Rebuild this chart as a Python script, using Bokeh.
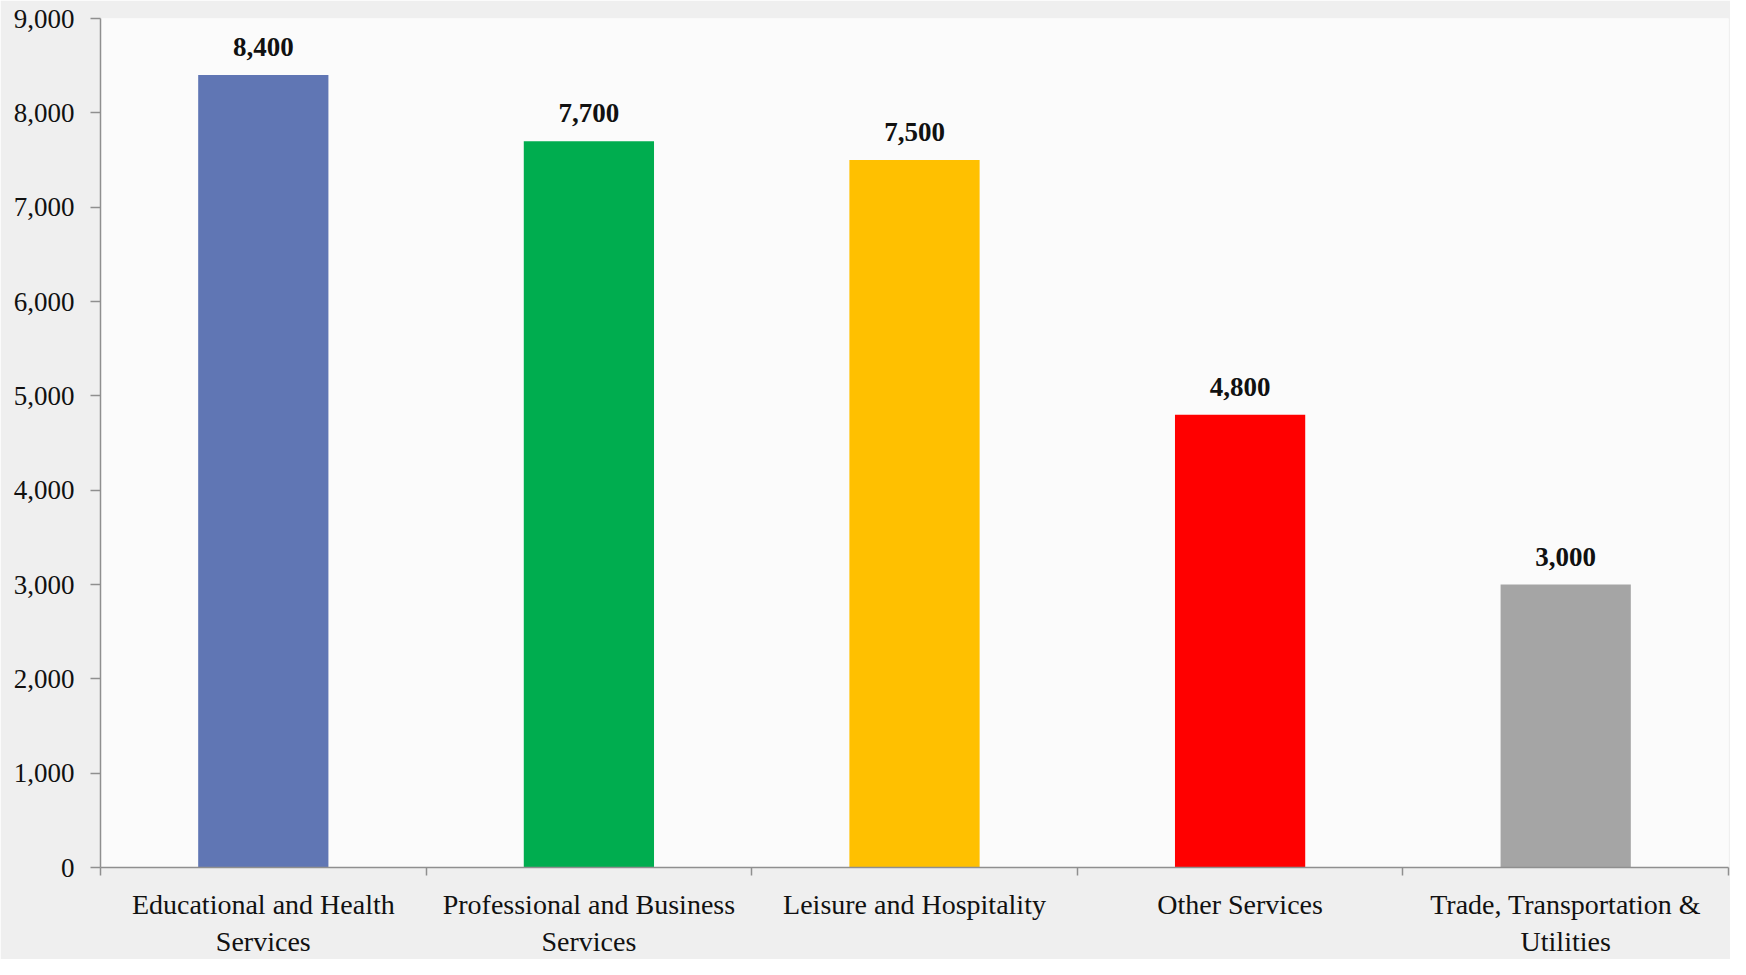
from bokeh.plotting import figure
from bokeh.models import Range1d, FixedTicker, NumeralTickFormatter, ColumnDataSource, LinearAxis
from bokeh.core.properties import value
from bokeh.embed import file_html
from bokeh.resources import INLINE

categories = ["Educational and Health\nServices", "Professional and Business\nServices",
              "Leisure and Hospitality", "Other Services", "Trade, Transportation &\nUtilities"]
values = [8400, 7700, 7500, 4800, 3000]
labels = ["8,400", "7,700", "7,500", "4,800", "3,000"]
colors = ["#6076b4", "#00ad4f", "#ffc000", "#ff0000", "#a5a5a5"]
y_ticks = [0, 1000, 2000, 3000, 4000, 5000, 6000, 7000, 8000, 9000]

FONT = "Liberation Serif"
GRAY = "#8f8f8f"

n = len(categories)
centers = [i + 0.5 for i in range(n)]
source = ColumnDataSource(dict(x=centers, top=values, label=labels, color=colors))

p = figure(width=1730, height=959, output_backend="svg", toolbar_location=None,
           x_range=Range1d(0, n), y_range=Range1d(0, 9000),
           min_border_left=100, min_border_right=2, min_border_top=18, min_border_bottom=82,
           x_axis_type=None, y_axis_type=None)
p.background_fill_color = "#fbfbfb"
p.border_fill_color = "#efefef"
p.outline_line_color = None

# y axis
yaxis = LinearAxis(ticker=FixedTicker(ticks=y_ticks, minor_ticks=[]),
                   formatter=NumeralTickFormatter(format="0,0"))
yaxis.axis_line_color = GRAY
yaxis.axis_line_width = 1.5
yaxis.major_tick_line_color = GRAY
yaxis.major_tick_line_width = 1.5
yaxis.major_tick_out = 10
yaxis.major_tick_in = 0
yaxis.minor_tick_line_color = None
yaxis.major_label_text_font = FONT
yaxis.major_label_text_font_size = "27px"
yaxis.major_label_text_color = "#111111"
yaxis.major_label_standoff = 16
p.add_layout(yaxis, "left")

# x axis: labels at centers, ticks at boundaries
xaxis = LinearAxis(ticker=FixedTicker(ticks=centers, minor_ticks=list(range(n + 1))))
xaxis.major_label_overrides = {c: lab for c, lab in zip(centers, categories)}
xaxis.axis_line_color = GRAY
xaxis.axis_line_width = 1.5
xaxis.major_tick_line_color = None
xaxis.minor_tick_line_color = GRAY
xaxis.minor_tick_line_width = 1.5
xaxis.minor_tick_out = 8
xaxis.minor_tick_in = 0
xaxis.major_label_text_font = FONT
xaxis.major_label_text_font_size = "28px"
xaxis.major_label_text_color = "#111111"
xaxis.major_label_standoff = 13
p.add_layout(xaxis, "below")

p.ygrid.ticker = FixedTicker(ticks=y_ticks)
p.ygrid.grid_line_color = GRAY
p.ygrid.grid_line_width = 1.5
p.xgrid.grid_line_color = None

p.vbar(x="x", top="top", width=0.4, bottom=0, color="color", line_color=None, source=source)
p.text(x="x", y="top", text="label", source=source, text_align="center", text_baseline="middle",
       y_offset=-28, text_font=value(FONT), text_font_style="bold", text_font_size="27px",
       text_color="#111111")

open("out.html", "w").write(file_html(p, INLINE))
